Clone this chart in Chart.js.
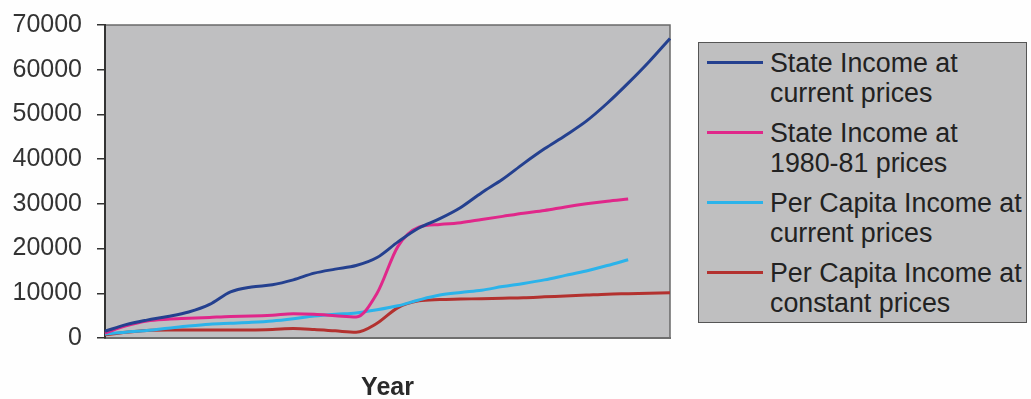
<!DOCTYPE html>
<html>
<head>
<meta charset="utf-8">
<script src="https://cdn.jsdelivr.net/npm/chart.js@4/dist/chart.umd.min.js"></script>
<style>
  html, body { margin: 0; padding: 0; background: #fefefe; }
  #wrap { position: relative; width: 1031px; height: 399px; }
  #legend {
    position: absolute; left: 698px; top: 42px; width: 329px; height: 281px;
    background: #bfbfc0; border: 1px solid #555; box-sizing: border-box;
    font-family: "Liberation Sans", Arial, sans-serif; font-size: 26.8px; color: #222;
  }
  .entry { position: absolute; left: 0; width: 330px; }
  .swatch { position: absolute; left: 8px; top: 13px; width: 56px; height: 3px; }
  .label { position: absolute; left: 71px; top: 0; line-height: 30px; white-space: nowrap; }
</style>
</head>
<body>
<div id="wrap">
  <canvas id="c" width="1031" height="399"></canvas>
  <div id="legend"></div>
</div>
<script>
// ---- data ----
const years = ["1980-81","1981-82","1982-83","1983-84","1984-85","1985-86","1986-87","1987-88",
  "1988-89","1989-90","1990-91","1991-92","1992-93","1993-94","1994-95","1995-96","1996-97",
  "1997-98","1998-99","1999-00","2000-01","2001-02","2002-03","2003-04","2004-05","2005-06",
  "2006-07","2007-08"];
const stateIncomeCurrent = [1500,3000,4000,4800,5800,7500,10300,11400,11900,13000,14500,15400,
  16200,18000,21500,24600,26700,29200,32500,35500,39000,42300,45300,48500,52500,57000,61800,67000];
const stateIncome8081 = [1100,2700,3800,4200,4400,4600,4800,4900,5100,5400,5300,5000,4700,
  10000,20500,24800,25400,25800,26500,27200,27900,28500,29300,30000,30600,31100];
const perCapitaCurrent = [900,1300,1700,2200,2700,3100,3300,3500,3800,4300,4900,5300,5600,
  6300,7200,8500,9600,10200,10700,11500,12200,13000,14000,15000,16200,17500];
const perCapitaConstant = [700,1300,1700,1800,1800,1800,1800,1800,1900,2100,1900,1600,1300,
  3300,6800,8300,8600,8700,8800,8900,9000,9200,9400,9600,9800,9900,10000,10100];
const seriesLabels = [
  ["State Income at", "current prices"],
  ["State Income at", "1980-81 prices"],
  ["Per Capita Income at", "current prices"],
  ["Per Capita Income at", "constant prices"]
];
const yTicks = [0,10000,20000,30000,40000,50000,60000,70000];
const xTitle = "Year";

const colors = ["#24408f", "#e0278a", "#2bb3ea", "#b3312f"];
const seriesData = [stateIncomeCurrent, stateIncome8081, perCapitaCurrent, perCapitaConstant];

const plotBg = {
  id: 'plotBg',
  beforeDraw(chart) {
    const {ctx, chartArea: a} = chart;
    ctx.save();
    ctx.fillStyle = '#bfbfc1';
    ctx.fillRect(a.left, a.top, a.right - a.left, a.bottom - a.top);
    ctx.strokeStyle = '#6a6a6a';
    ctx.lineWidth = 1.5;
    ctx.beginPath();
    ctx.moveTo(a.left, a.top); ctx.lineTo(a.right, a.top); ctx.lineTo(a.right, a.bottom);
    ctx.stroke();
    ctx.restore();
  }
};

const chart = new Chart(document.getElementById('c'), {
  type: 'line',
  data: {
    labels: years,
    datasets: seriesData.map((d, i) => ({
      label: seriesLabels[i].join(' '),
      data: d,
      borderColor: colors[i],
      backgroundColor: colors[i],
      borderWidth: 3,
      pointRadius: 0,
      cubicInterpolationMode: 'monotone',
      fill: false
    }))
  },
  options: {
    responsive: false,
    animation: false,
    devicePixelRatio: 1,
    layout: { padding: { left: 0, right: 361, top: 25, bottom: 0 } },
    plugins: { legend: { display: false }, tooltip: { enabled: false } },
    scales: {
      x: {
        offset: false,
        ticks: { display: false },
        grid: { display: false },
        border: { display: true, color: '#6e6e6e', width: 2 },
        title: {
          display: true, text: xTitle, color: '#2a2a2a',
          font: { family: 'Liberation Sans', size: 25, weight: 'bold', lineHeight: 0.88 },
          padding: { top: 0, bottom: 0 }
        },
        afterFit(scale) { scale.height = 61; scale.paddingLeft = 0; scale.paddingRight = 0; }
      },
      y: {
        min: 0, max: 70000,
        afterBuildTicks(scale) { scale.ticks = yTicks.map(v => ({ value: v })); },
        ticks: {
          color: '#333',
          padding: 15,
          font: { family: 'Liberation Sans', size: 25 },
          callback: v => String(v)
        },
        grid: { drawOnChartArea: false, drawTicks: true, tickLength: 8, color: '#333', lineWidth: 1.5 },
        border: { display: true, color: '#333', width: 2 },
        afterFit(scale) { scale.width = 105; scale.paddingTop = 0; scale.paddingBottom = 0; }
      }
    }
  },
  plugins: [plotBg]
});

// HTML legend built from the datasets
const legend = document.getElementById('legend');
chart.data.datasets.forEach((ds, i) => {
  const e = document.createElement('div');
  e.className = 'entry';
  e.style.top = (5 + i * 70) + 'px';
  const sw = document.createElement('div');
  sw.className = 'swatch';
  sw.style.background = ds.borderColor;
  const lb = document.createElement('div');
  lb.className = 'label';
  lb.innerHTML = seriesLabels[i].map(s => s.replace(/&/g, '&amp;')).join('<br>');
  e.appendChild(sw); e.appendChild(lb);
  legend.appendChild(e);
});
</script>
</body>
</html>
